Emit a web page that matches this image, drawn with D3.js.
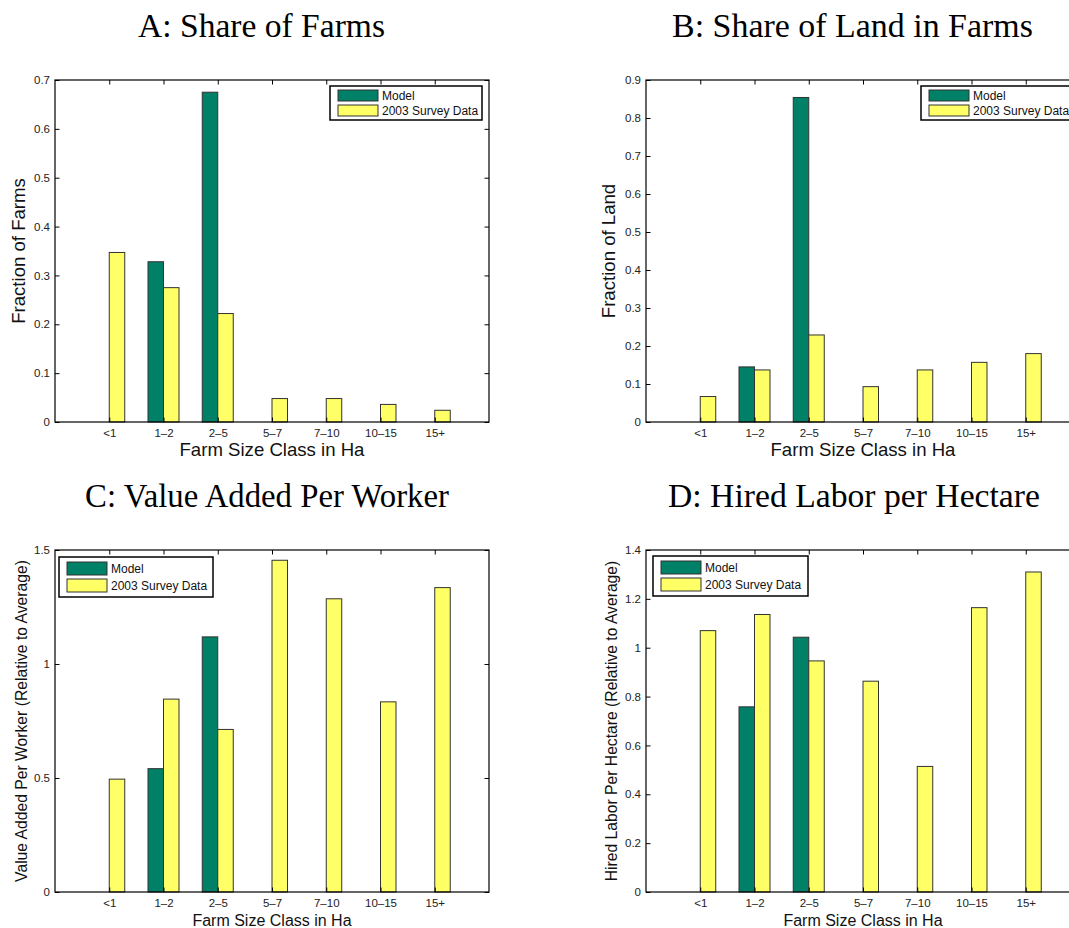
<!DOCTYPE html>
<html><head><meta charset="utf-8">
<script src="https://cdn.jsdelivr.net/npm/d3@7"></script>
<style>body{margin:0;background:#fff} svg{display:block}</style>
</head><body>
<svg id="c" width="1069" height="928"></svg>
<script>
// ---- data ----
const categories = ["<1", "1\u20132", "2\u20135", "5\u20137", "7\u201310", "10\u201315", "15+"];
const seriesNames = ["Model", "2003 Survey Data"];

const farmsModel  = [0, 0.328, 0.675, 0, 0, 0, 0];
const farmsSurvey = [0.347, 0.275, 0.222, 0.048, 0.048, 0.036, 0.024];

const landModel  = [0, 0.145, 0.854, 0, 0, 0, 0];
const landSurvey = [0.067, 0.137, 0.229, 0.093, 0.137, 0.157, 0.180];

const vaModel  = [0, 0.541, 1.119, 0, 0, 0, 0];
const vaSurvey = [0.495, 0.846, 0.713, 1.455, 1.286, 0.834, 1.335];

const laborModel  = [0, 0.758, 1.043, 0, 0, 0, 0];
const laborSurvey = [1.070, 1.136, 0.946, 0.863, 0.514, 1.164, 1.310];

const farmsTicks = [0, 0.1, 0.2, 0.3, 0.4, 0.5, 0.6, 0.7];
const landTicks  = [0, 0.1, 0.2, 0.3, 0.4, 0.5, 0.6, 0.7, 0.8, 0.9];
const vaTicks    = [0, 0.5, 1, 1.5];
const laborTicks = [0, 0.2, 0.4, 0.6, 0.8, 1, 1.2, 1.4];

const titles  = ["A: Share of Farms", "B: Share of Land in Farms", "C: Value Added Per Worker", "D: Hired Labor per Hectare"];
const yLabels = ["Fraction of Farms", "Fraction of Land", "Value Added Per Worker (Relative to Average)", "Hired Labor Per Hectare (Relative to Average)"];
const xLabel = "Farm Size Class in Ha";

// ---- layout / style ----
const colors = ["#008066", "#ffff66"];
const sans = "'Liberation Sans', Arial, Helvetica, sans-serif";
const serif = "'Liberation Serif', 'Times New Roman', serif";

const panels = [
  {model: farmsModel, survey: farmsSurvey, ticks: farmsTicks, box: {l: 55, r: 489, t: 80, b: 422},
   title: {cx: 261.5, w: 247, y: 37}, ylab: {x: 18, size: 18.6}, xlab: {y: 456, size: 18.6},
   legend: {x: 330, y: 86, w: 152, h: 34, sh: 11, r1: 4, r2: 19}},
  {model: landModel, survey: landSurvey, ticks: landTicks, box: {l: 646, r: 1080, t: 80, b: 422},
   title: {cx: 852.5, w: 361, y: 37}, ylab: {x: 608, size: 18.6}, xlab: {y: 456, size: 18.6},
   legend: {x: 921, y: 86, w: 152, h: 34, sh: 11, r1: 4, r2: 19}},
  {model: vaModel, survey: vaSurvey, ticks: vaTicks, box: {l: 55, r: 489, t: 550, b: 892},
   title: {cx: 267, w: 364, y: 507}, ylab: {x: 21, size: 15.7}, xlab: {y: 925.5, size: 16},
   legend: {x: 59, y: 557, w: 154, h: 40, sh: 13, r1: 5, r2: 22}},
  {model: laborModel, survey: laborSurvey, ticks: laborTicks, box: {l: 646, r: 1080, t: 550, b: 892},
   title: {cx: 854, w: 372, y: 507}, ylab: {x: 611, size: 15.7}, xlab: {y: 925.5, size: 16},
   legend: {x: 653, y: 556, w: 155, h: 40, sh: 13, r1: 5, r2: 22}}
];

const svg = d3.select("#c");
const barW = 0.2857;

panels.forEach((p, pi) => {
  const {l, r, t, b} = p.box;
  const x = d3.scaleLinear().domain([0, 8]).range([l, r]);
  const y = d3.scaleLinear().domain([0, p.ticks[p.ticks.length - 1]]).range([b, t]);
  const g = svg.append("g");

  // bars
  const series = [p.model, p.survey];
  series.forEach((vals, si) => {
    g.append("g").selectAll("rect").data(vals).join("rect")
      .attr("x", (d, i) => x(i + 1 - barW + si * barW))
      .attr("width", x(barW) - x(0))
      .attr("y", d => y(d))
      .attr("height", d => y(0) - y(d))
      .attr("fill", colors[si])
      .attr("stroke", "#333")
      .attr("stroke-width", 1);
  });

  const catIdx = d3.range(1, categories.length + 1);
  const tk = 4.5;
  const styleAxis = a => {
    a.select(".domain").remove();
    a.selectAll("line").attr("stroke", "#000");
    a.selectAll("text").attr("font-family", sans).attr("font-size", 11.5).attr("fill", "#222");
  };
  g.append("g").attr("transform", `translate(${l},0)`)
    .call(d3.axisLeft(y).tickValues(p.ticks).tickSize(-tk).tickPadding(5).tickFormat(d3.format("~g")))
    .call(styleAxis);
  g.append("g").attr("transform", `translate(${r},0)`)
    .call(d3.axisRight(y).tickValues(p.ticks).tickSize(-tk).tickFormat(""))
    .call(styleAxis);
  g.append("g").attr("transform", `translate(0,${t})`)
    .call(d3.axisTop(x).tickValues(catIdx).tickSize(-tk).tickFormat(""))
    .call(styleAxis);
  g.append("g").attr("transform", `translate(0,${b})`)
    .call(d3.axisBottom(x).tickValues(catIdx).tickSize(-tk).tickPadding(7).tickFormat(i => categories[i - 1]))
    .call(styleAxis);

  g.append("rect").attr("x", l).attr("y", t).attr("width", r - l).attr("height", b - t)
    .attr("fill", "none").attr("stroke", "#000").attr("stroke-width", 1.2);

  // labels
  g.append("text").attr("x", (l + r) / 2).attr("y", p.xlab.y).attr("text-anchor", "middle")
    .attr("font-family", sans).attr("font-size", p.xlab.size).attr("fill", "#111").text(xLabel);
  g.append("text").attr("transform", `translate(${p.ylab.x},${(t + b) / 2}) rotate(-90)`)
    .attr("text-anchor", "middle").attr("dominant-baseline", "central")
    .attr("font-family", sans).attr("font-size", p.ylab.size).attr("fill", "#111").text(yLabels[pi]);

  const tt = g.append("text").attr("x", p.title.cx).attr("y", p.title.y).attr("text-anchor", "middle")
    .attr("font-family", serif).attr("font-size", 30).attr("fill", "#000").text(titles[pi]);
  const len = tt.node().getComputedTextLength();
  tt.attr("font-size", 30 * p.title.w / len);

  // legend
  const L = p.legend;
  const lg = g.append("g").attr("transform", `translate(${L.x},${L.y})`);
  lg.append("rect").attr("width", L.w).attr("height", L.h).attr("fill", "#fff")
    .attr("stroke", "#000").attr("stroke-width", 1.5);
  [L.r1, L.r2].forEach((ry, si) => {
    lg.append("rect").attr("x", 8).attr("y", ry).attr("width", 40).attr("height", L.sh)
      .attr("fill", colors[si]).attr("stroke", "#333").attr("stroke-width", 1);
    lg.append("text").attr("x", 52).attr("y", ry + L.sh / 2).attr("dominant-baseline", "central")
      .attr("font-family", sans).attr("font-size", 12).attr("fill", "#111").text(seriesNames[si]);
  });
});
</script>
</body></html>
